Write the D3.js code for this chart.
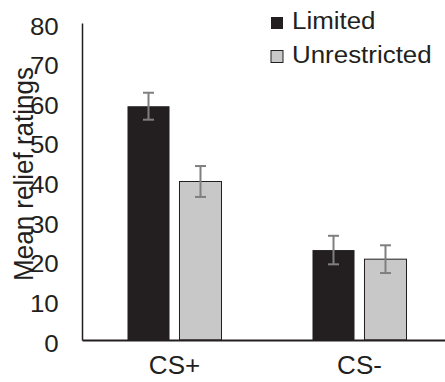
<!DOCTYPE html>
<html lang="en">
<head>
<meta charset="utf-8">
<title>Mean relief ratings</title>
<script src="https://cdn.jsdelivr.net/npm/d3@7"></script>
<style>
  body { margin: 0; background: #fff; }
  text { font-family: "Liberation Sans", Arial, sans-serif; fill: #231f20; }
</style>
</head>
<body>
<script>
// data
var categories = ["CS+", "CS-"];
var groups = ["Limited", "Unrestricted"];
var limited = [59.0, 22.7];
var unrestricted = [40.0, 20.4];
var limitedErr = [3.4, 3.6];
var unrestrictedErr = [3.9, 3.5];
var yTicks = [0, 10, 20, 30, 40, 50, 60, 70, 80];

var w = 445, h = 382;
var colors = { Limited: "#231f20", Unrestricted: "#c8c8c8" };
var sx = 1.08; // the original figure text is slightly wide

var rows = [];
categories.forEach(function (c, i) {
  rows.push({ cat: c, group: "Limited", v: limited[i], e: limitedErr[i] });
  rows.push({ cat: c, group: "Unrestricted", v: unrestricted[i], e: unrestrictedErr[i] });
});

var svg = d3.select("body").append("svg")
  .attr("width", w)
  .attr("height", h);

var x0 = d3.scaleBand().domain(categories).range([82, 452]);
var x1 = d3.scaleBand().domain(groups)
  .range([0, x0.bandwidth()])
  .paddingInner(0.192)
  .paddingOuter(0.875);
var y = d3.scaleLinear().domain([0, 80]).range([340, 23]);

// bars
svg.selectAll("rect.bar")
  .data(rows)
  .enter()
  .append("rect")
  .attr("class", "bar")
  .attr("x", function (d) { return x0(d.cat) + x1(d.group); })
  .attr("y", function (d) { return y(d.v); })
  .attr("width", x1.bandwidth())
  .attr("height", function (d) { return y(0) - y(d.v); })
  .attr("fill", function (d) { return colors[d.group]; })
  .attr("stroke", function (d) { return d.group == "Unrestricted" ? "#231f20" : "none"; })
  .attr("stroke-width", 1);

// error bars
var eb = svg.selectAll("g.err")
  .data(rows)
  .enter()
  .append("g")
  .attr("class", "err")
  .attr("stroke", "#7f7f7f")
  .attr("stroke-width", 2);

function cx(d) { return x0(d.cat) + x1(d.group) + x1.bandwidth() / 2; }

eb.append("line")
  .attr("x1", cx).attr("x2", cx)
  .attr("y1", function (d) { return y(d.v + d.e); })
  .attr("y2", function (d) { return y(d.v - d.e); });
eb.append("line")
  .attr("x1", function (d) { return cx(d) - 5.5; })
  .attr("x2", function (d) { return cx(d) + 5.5; })
  .attr("y1", function (d) { return y(d.v + d.e); })
  .attr("y2", function (d) { return y(d.v + d.e); });
eb.append("line")
  .attr("x1", function (d) { return cx(d) - 5.5; })
  .attr("x2", function (d) { return cx(d) + 5.5; })
  .attr("y1", function (d) { return y(d.v - d.e); })
  .attr("y2", function (d) { return y(d.v - d.e); });

// y axis
var yAxis = svg.append("g")
  .attr("transform", "translate(82,0)")
  .call(d3.axisLeft(y).tickValues(yTicks).tickSize(0).tickPadding(21.5));
yAxis.select(".domain").attr("stroke", "#231f20").attr("stroke-width", 1.5);
yAxis.selectAll("text")
  .attr("font-size", "24px")
  .attr("dy", "0.46em")
  .attr("transform", "scale(" + sx + ",1)")
  .attr("fill", "#231f20")
  .style("font-family", "Liberation Sans, Arial, sans-serif");

// x axis
var xAxis = svg.append("g")
  .attr("transform", "translate(0,340)")
  .call(d3.axisBottom(x0).tickSize(0).tickPadding(16));
xAxis.select(".domain").attr("stroke", "#231f20").attr("stroke-width", 2);
xAxis.selectAll("text")
  .attr("font-size", "25px")
  .attr("transform", "scale(1.04,1)")
  .attr("fill", "#231f20")
  .style("font-family", "Liberation Sans, Arial, sans-serif");

// y label
svg.append("text")
  .attr("transform", "translate(33,174) scale(" + sx + ",1) rotate(-90)")
  .attr("text-anchor", "middle")
  .attr("font-size", "26px")
  .text("Mean relief ratings");

// legend
var lg = svg.selectAll("g.legend")
  .data(groups)
  .enter()
  .append("g")
  .attr("class", "legend")
  .attr("transform", function (d, i) { return "translate(271," + (17 + i * 33.5) + ")"; });
lg.append("rect")
  .attr("width", 12).attr("height", 12)
  .attr("fill", function (d) { return colors[d]; })
  .attr("stroke", function (d) { return d == "Unrestricted" ? "#231f20" : "none"; });
lg.append("text")
  .attr("transform", "translate(21,12) scale(" + sx + ",1)")
  .attr("font-size", "24px")
  .text(function (d) { return d; });
</script>
</body>
</html>
